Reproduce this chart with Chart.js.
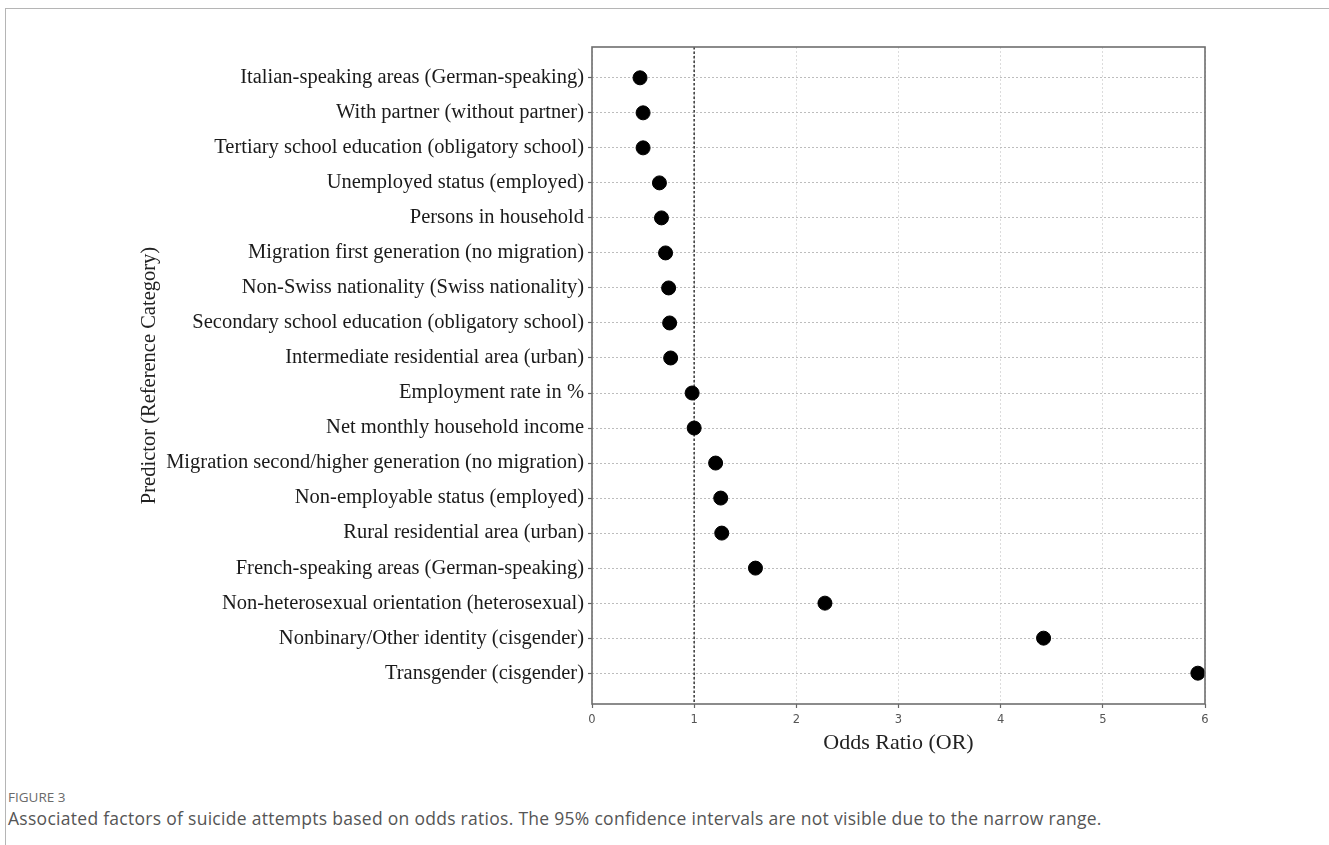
<!DOCTYPE html>
<html>
<head>
<meta charset="utf-8">
<script src="https://cdn.jsdelivr.net/npm/chart.js@4/dist/chart.umd.min.js"></script>
<style>
  html, body { margin: 0; padding: 0; background: #fff; }
  body { width: 1329px; height: 845px; position: relative; overflow: hidden; }
  #frame { position: absolute; left: 5px; top: 8px; width: 1330px; height: 845px;
           border-top: 1px solid #b5b5b5; border-left: 1px solid #b5b5b5; }
  #wrap { position: absolute; left: 0; top: 0; width: 1329px; height: 770px; }
  #figlabel { position: absolute; left: 8px; top: 788px; font-family: "Open Sans", sans-serif;
              font-size: 13.5px; line-height: 18px; color: #6a6a6a; }
  #caption { position: absolute; left: 8px; top: 806px; font-family: "Open Sans", sans-serif;
             font-size: 17.5px; line-height: 24px; letter-spacing: 0.28px; color: #555; white-space: nowrap; }
</style>
</head>
<body>
<div id="frame"></div>
<div id="wrap"><canvas id="c" width="1329" height="770"></canvas></div>
<div id="figlabel">FIGURE 3</div>
<div id="caption">Associated factors of suicide attempts based on odds ratios. The 95% confidence intervals are not visible due to the narrow range.</div>
<script>
const predictors = [
  "Italian-speaking areas (German-speaking)",
  "With partner (without partner)",
  "Tertiary school education (obligatory school)",
  "Unemployed status (employed)",
  "Persons in household",
  "Migration first generation (no migration)",
  "Non-Swiss nationality (Swiss nationality)",
  "Secondary school education (obligatory school)",
  "Intermediate residential area (urban)",
  "Employment rate in %",
  "Net monthly household income",
  "Migration second/higher generation (no migration)",
  "Non-employable status (employed)",
  "Rural residential area (urban)",
  "French-speaking areas (German-speaking)",
  "Non-heterosexual orientation (heterosexual)",
  "Nonbinary/Other identity (cisgender)",
  "Transgender (cisgender)"
];
const oddsRatios = [0.47, 0.50, 0.50, 0.66, 0.68, 0.72, 0.75, 0.76, 0.77, 0.98, 1.00, 1.21, 1.26, 1.27, 1.60, 2.28, 4.42, 5.93];
const xTicks = [0, 1, 2, 3, 4, 5, 6];
const referenceOR = 1;

const points = oddsRatios.map((v, i) => ({ x: v, y: i }));

const framePlugin = {
  id: 'frameAndRef',
  beforeDatasetsDraw(chart) {
    const { ctx, chartArea: a, scales } = chart;
    const xr = scales.x.getPixelForValue(referenceOR);
    ctx.save();
    ctx.strokeStyle = '#444';
    ctx.lineWidth = 1.6;
    ctx.setLineDash([2.5, 2]);
    ctx.beginPath();
    ctx.moveTo(xr, a.top);
    ctx.lineTo(xr, a.bottom);
    ctx.stroke();
    ctx.restore();
  },
  afterDatasetsDraw(chart) {
    const { ctx, chartArea: a } = chart;
    ctx.save();
    ctx.strokeStyle = '#6e6e6e';
    ctx.lineWidth = 1.6;
    ctx.strokeRect(a.left, a.top, a.right - a.left, a.bottom - a.top);
    ctx.restore();
  }
};

new Chart(document.getElementById('c'), {
  type: 'scatter',
  data: {
    datasets: [{
      data: points,
      backgroundColor: '#000',
      borderColor: '#000',
      pointRadius: 7,
      pointHoverRadius: 7,
      clip: false
    }]
  },
  options: {
    responsive: false,
    animation: false,
    events: [],
    layout: { padding: { top: 47, right: 124, left: 137, bottom: 14 } },
    plugins: { legend: { display: false }, tooltip: { enabled: false } },
    scales: {
      x: {
        type: 'linear',
        min: 0, max: 6,
        afterBuildTicks: s => { s.ticks = xTicks.map(v => ({ value: v })); },
        afterFit: s => { s.height = 52; },
        grid: { color: '#dcdcdc', lineWidth: 1, drawTicks: true, tickLength: 4, tickColor: '#666', tickWidth: 1.2, tickBorderDash: [] },
        border: { display: false, dash: [2, 2] },
        ticks: { color: '#555', font: { family: 'DejaVu Sans', size: 11.5 }, padding: 5 },
        title: { display: true, text: 'Odds Ratio (OR)', color: '#222',
                 font: { family: 'Liberation Serif', size: 22 }, padding: { top: 0, bottom: 0 } }
      },
      y: {
        type: 'linear',
        reverse: true,
        min: -0.88, max: 17.88,
        afterBuildTicks: s => { s.ticks = predictors.map((p, i) => ({ value: i })); },
        afterFit: s => { s.width = 592 - 137; },
        grid: { color: '#bdbdbd', lineWidth: 1, drawTicks: true, tickLength: 4, tickColor: '#666', tickWidth: 1.2, tickBorderDash: [] },
        border: { display: false, dash: [2, 2] },
        ticks: { color: '#1a1a1a', font: { family: 'Liberation Serif', size: 20.5 }, padding: 4,
                 callback: (v) => predictors[v] },
        title: { display: true, text: 'Predictor (Reference Category)', color: '#222',
                 font: { family: 'Liberation Serif', size: 20.5 }, padding: { top: 0, bottom: 0 } }
      }
    }
  },
  plugins: [framePlugin]
});
</script>
</body>
</html>
